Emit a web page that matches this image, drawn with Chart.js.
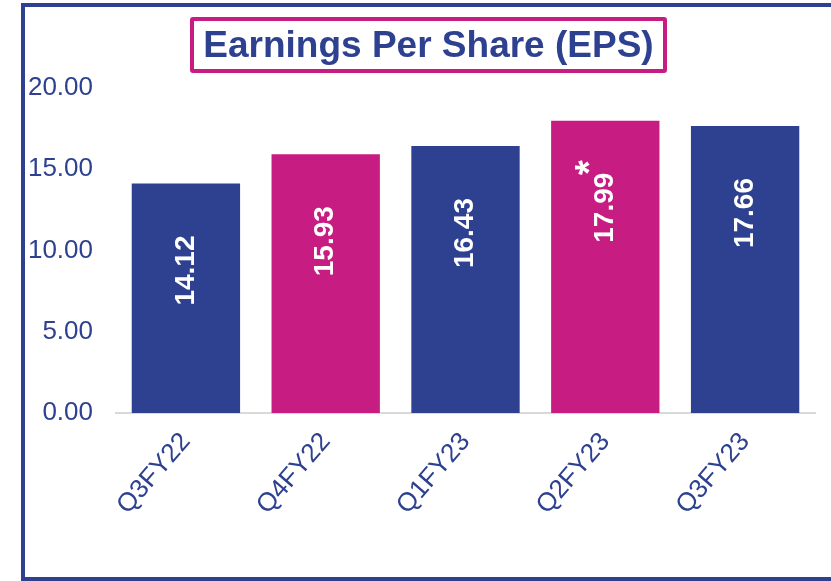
<!DOCTYPE html>
<html>
<head>
<meta charset="utf-8">
<script src="https://cdn.jsdelivr.net/npm/chart.js@4.4.1/dist/chart.umd.min.js"></script>
<style>
    body { margin: 0; background: #fff; overflow: hidden; }
    #frame {
        position: absolute; left: 21px; top: 3px; width: 900px; height: 578px;
        box-sizing: border-box; border: 4px solid #2E4190;
    }
    #title {
        position: absolute; left: 190px; top: 17px; width: 477px; height: 56px;
        box-sizing: border-box; border: 4px solid #C71C81; border-radius: 3px;
        display: flex; align-items: center; justify-content: center;
        font: bold 37px "Liberation Sans", Arial, sans-serif; color: #2E4190;
    }
    #eps-chart { position: absolute; left: 0; top: 0; }
</style>
</head>
<body>
<div id="frame"></div>
<canvas id="eps-chart" width="831" height="581"></canvas>
<div id="title">Earnings Per Share (EPS)</div>
<script>
const quarters = ['Q3FY22', 'Q4FY22', 'Q1FY23', 'Q2FY23', 'Q3FY23'];
const epsValues = [14.12, 15.93, 16.43, 17.99, 17.66];
const valueNotes = ['', '', '', '*', ''];
const barColors = ['#2E4190', '#C71C81', '#2E4190', '#C71C81', '#2E4190'];
const yTicks = [0, 5, 10, 15, 20];

const BLUE = '#2E4190';
const FONT = '"Liberation Sans", Arial, sans-serif';

// values written vertically inside the bars, a bit below the top
const barLabels = {
    id: 'barLabels',
    afterDatasetsDraw(chart) {
        const ctx = chart.ctx;
        const yScale = chart.scales.y;
        chart.getDatasetMeta(0).data.forEach((bar, i) => {
            const top = yScale.getPixelForValue(epsValues[i]);
            ctx.save();
            ctx.translate(bar.x, top + 52);
            ctx.rotate(-Math.PI / 2);
            ctx.fillStyle = '#fff';
            ctx.font = 'bold 28px ' + FONT;
            ctx.textAlign = 'right';
            ctx.textBaseline = 'middle';
            ctx.fillText(epsValues[i].toFixed(2), 0, 0);
            if (valueNotes[i]) {
                ctx.font = 'bold 38px ' + FONT;
                ctx.textAlign = 'center';
                ctx.textBaseline = 'alphabetic';
                ctx.fillText(valueNotes[i], 5, -3);
            }
            ctx.restore();
        });
    }
};

new Chart(document.getElementById('eps-chart'), {
    type: 'bar',
    data: {
        labels: quarters,
        datasets: [{
            data: epsValues,
            backgroundColor: barColors,
            barPercentage: 0.775,
            categoryPercentage: 1.0
        }]
    },
    options: {
        responsive: false,
        animation: false,
        layout: { padding: { top: 88, right: 16, left: 0, bottom: 0 } },
        plugins: { legend: { display: false }, tooltip: { enabled: false } },
        scales: {
            x: {
                grid: { display: false, drawTicks: false },
                border: { color: '#D9D9D9', width: 2 },
                ticks: {
                    color: BLUE, font: { family: FONT, size: 26 },
                    minRotation: 49, maxRotation: 49, autoSkip: false, padding: 14
                },
                afterFit: (scale) => { scale.height = 581 - 413; }
            },
            y: {
                min: 0, max: 20,
                grid: { display: false, drawTicks: false },
                border: { display: false },
                afterBuildTicks: (scale) => { scale.ticks = yTicks.map(v => ({ value: v })); },
                ticks: {
                    color: BLUE, font: { family: FONT, size: 26 }, padding: 23,
                    callback: (v) => Number(v).toFixed(2)
                },
                afterFit: (scale) => { scale.width = 116; }
            }
        }
    },
    plugins: [barLabels]
});
</script>
</body>
</html>
